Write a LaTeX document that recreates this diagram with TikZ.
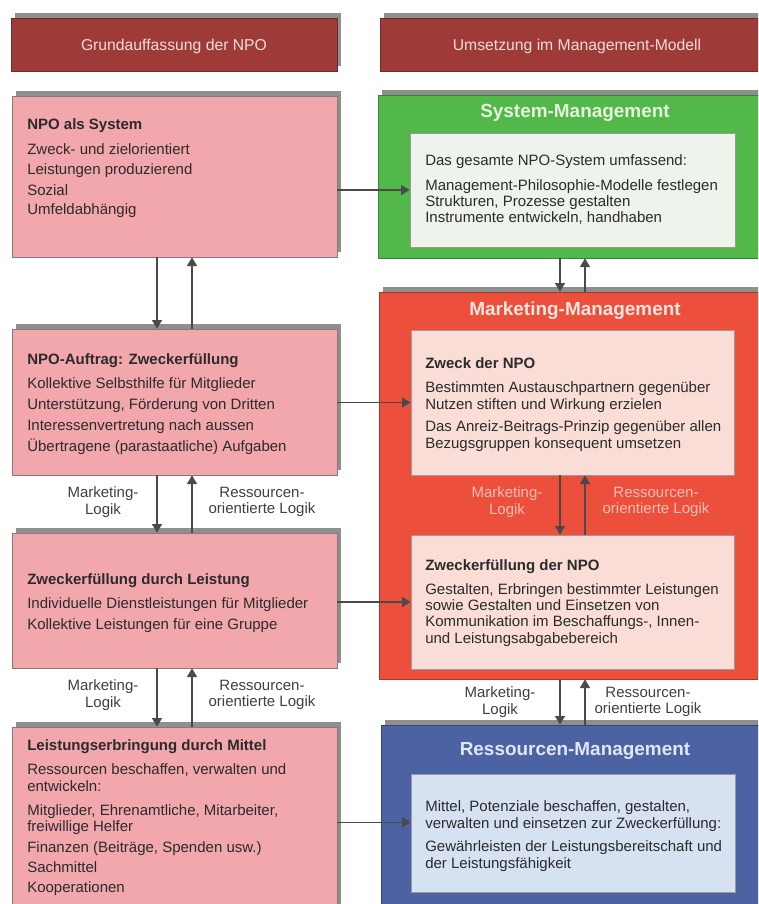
\documentclass[tikz,border=0pt]{standalone}
\usepackage{fontspec}
\setmainfont{Liberation Sans}
\usetikzlibrary{fit,arrows.meta,shadows}
\definecolor{hdrred}{HTML}{9E3B39}
\definecolor{hdrtext}{HTML}{F2DCD6}
\definecolor{pinkc}{HTML}{F2A7AD}
\definecolor{pinkedge}{HTML}{8C7878}
\definecolor{shadowgray}{HTML}{8F8F8F}
\definecolor{greenc}{HTML}{52B84A}
\definecolor{greenin}{HTML}{EEF3EC}
\definecolor{greentitle}{HTML}{E6F2DC}
\definecolor{redc}{HTML}{EC4F3B}
\definecolor{redin}{HTML}{F9DDD6}
\definecolor{redtitle}{HTML}{FDE6DE}
\definecolor{redlab}{HTML}{F6C0B4}
\definecolor{bluec}{HTML}{4D62A3}
\definecolor{bluein}{HTML}{D6E1F2}
\definecolor{bluetitle}{HTML}{DFE6F4}
\definecolor{textc}{HTML}{2B2B2B}
\definecolor{arrc}{HTML}{4A4A4A}
\definecolor{inedge}{HTML}{9A9A9A}
\begin{document}
\begin{tikzpicture}[x=0.75pt,y=-0.75pt,
  shad/.style={general shadow={shadow xshift=3.2pt,shadow yshift=3.75pt,fill=shadowgray}},
  hdrbox/.style={inner sep=0pt,fill=hdrred,draw=hdrred!70!black,line width=0.4pt,shad},
  pinkbox/.style={inner sep=0pt,fill=pinkc,draw=pinkedge,line width=0.5pt,shad},
  greenbox/.style={inner sep=0pt,fill=greenc,draw=greenc!70!black,line width=0.5pt,shad},
  redbox/.style={inner sep=0pt,fill=redc,draw=redc!70!black,line width=0.5pt,shad},
  bluebox/.style={inner sep=0pt,fill=bluec,draw=bluec!70!black,line width=0.5pt,shad},
  inbox/.style={inner sep=0pt,draw=inedge,line width=0.5pt},
  hdrtxt/.style={inner sep=0pt,text=hdrtext,font=\fontsize{11.8}{13}\selectfont},
  mtitle/.style={inner sep=0pt,font=\fontsize{14.2}{16}\selectfont\bfseries},
  txt/.style={anchor=base west,inner sep=0pt,text=textc,font=\fontsize{11.25}{13}\selectfont},
  ttl/.style={txt,font=\fontsize{11.25}{13}\selectfont\bfseries},
  lab/.style={align=center,inner sep=0pt,text=textc!90,font=\fontsize{11.25}{12.4}\selectfont},
  arr/.style={draw=arrc,line width=1.1pt,-{Triangle[length=6.5pt,width=7.5pt]}}
]
\useasboundingbox (0,0) rectangle (758,904);
\clip (0,0) rectangle (758,904);
\fill[white] (0,0) rectangle (758,904);

% column positions for vertical connectors
\coordinate (Ldn) at (157,0);
\coordinate (Lup) at (192,0);
\coordinate (Rdn) at (560,0);
\coordinate (Rup) at (585,0);

% headers
\node[hdrbox,fit={(11,18) (337,71)}] (h1) {};
\node[hdrtxt] (h1t) at (174,46) {Grundauffassung der NPO};
\node[hdrbox,fit={(380,18) (770,71)}] (h2) {};
\node[hdrtxt] (h2t) at (577,46) {Umsetzung im Management-Modell};

% left column
\node[pinkbox,fit={(12,96) (337,257)}] (b1) {};
\node[ttl] (b1a) at (27,129) {NPO als System};
\node[txt] (b1b) at (27,154) {Zweck- und zielorientiert};
\node[txt] (b1c) at (27,174) {Leistungen produzierend};
\node[txt] (b1d) at (27,195) {Sozial};
\node[txt] (b1e) at (27,214) {Umfeldabhängig};

\node[pinkbox,fit={(12,329) (337,475)}] (b2) {};
\node[ttl] (b2a) at (27,364) {NPO-Auftrag: Zweckerfüllung};
\node[txt] (b2b) at (27,388) {Kollektive Selbsthilfe für Mitglieder};
\node[txt] (b2c) at (27,409) {Unterstützung, Förderung von Dritten};
\node[txt] (b2d) at (27,430) {Interessenvertretung nach aussen};
\node[txt] (b2e) at (27,451) {Übertragene (parastaatliche) Aufgaben};

\node[pinkbox,fit={(12,533) (337,668)}] (b3) {};
\node[ttl] (b3a) at (27,584) {Zweckerfüllung durch Leistung};
\node[txt] (b3b) at (27,608) {Individuelle Dienstleistungen für Mitglieder};
\node[txt] (b3c) at (27,629) {Kollektive Leistungen für eine Gruppe};

\node[pinkbox,fit={(12,727) (337,915)}] (b4) {};
\node[ttl] (b4a) at (27,750) {Leistungserbringung durch Mittel};
\node[txt] (b4b) at (27,774) {Ressourcen beschaffen, verwalten und};
\node[txt] (b4c) at (27,791) {entwickeln:};
\node[txt] (b4d) at (27,815) {Mitglieder, Ehrenamtliche, Mitarbeiter,};
\node[txt] (b4e) at (27,831) {freiwillige Helfer};
\node[txt] (b4f) at (27,852) {Finanzen (Beiträge, Spenden usw.)};
\node[txt] (b4g) at (27,872) {Sachmittel};
\node[txt] (b4h) at (27,892) {Kooperationen};

% right column: System-Management
\node[greenbox,fit={(378,95) (775,258)}] (sm) {};
\node[mtitle,text=greentitle] (smt) at (575,113) {System-Management};
\node[inbox,fill=greenin,fit={(410,133) (735,247)}] (smin) {};
\node[txt] (sma) at (425,165) {Das gesamte NPO-System umfassend:};
\node[txt] (smb) at (425,190) {Management-Philosophie-Modelle festlegen};
\node[txt] (smc) at (425,206) {Strukturen, Prozesse gestalten};
\node[txt] (smd) at (425,222) {Instrumente entwickeln, handhaben};

% Marketing-Management
\node[redbox,fit={(379,292) (775,679)}] (mm) {};
\node[mtitle,text=redtitle] (mmt) at (575,311) {Marketing-Management};
\node[inbox,fill=redin,fit={(411,330) (734,475)}] (mm1) {};
\node[ttl] (mm1a) at (425,368) {Zweck der NPO};
\node[txt] (mm1b) at (425,392) {Bestimmten Austauschpartnern gegenüber};
\node[txt] (mm1c) at (425,409) {Nutzen stiften und Wirkung erzielen};
\node[txt] (mm1d) at (425,431) {Das Anreiz-Beitrags-Prinzip gegenüber allen};
\node[txt] (mm1e) at (425,448) {Bezugsgruppen konsequent umsetzen};
\node[inbox,fill=redin,fit={(411,535) (734,669)}] (mm2) {};
\node[ttl] (mm2a) at (425,570) {Zweckerfüllung der NPO};
\node[txt] (mm2b) at (425,594) {Gestalten, Erbringen bestimmter Leistungen};
\node[txt] (mm2c) at (425,610) {sowie Gestalten und Einsetzen von};
\node[txt] (mm2d) at (425,626) {Kommunikation im Beschaffungs-, Innen-};
\node[txt] (mm2e) at (425,643) {und Leistungsabgabebereich};
\node[lab,text=redlab] (mml1) at (507,502) {Marketing-\\Logik};
\node[lab,text=redlab] (mml2) at (656,502) {Ressourcen-\\orientierte Logik};

% Ressourcen-Management
\node[bluebox,fit={(381,725) (775,915)}] (rm) {};
\node[mtitle,text=bluetitle] (rmt) at (575,751) {Ressourcen-Management};
\node[inbox,fill=bluein,fit={(411,774) (735,892)}] (rmin) {};
\node[txt] (rma) at (425,811) {Mittel, Potenziale beschaffen, gestalten,};
\node[txt] (rmb) at (425,828) {verwalten und einsetzen zur Zweckerfüllung:};
\node[txt] (rmc) at (425,851) {Gewährleisten der Leistungsbereitschaft und};
\node[txt] (rmd) at (425,868) {der Leistungsfähigkeit};

% labels between left boxes
\node[lab] (l1) at (103,502) {Marketing-\\Logik};
\node[lab] (l2) at (262,502) {Ressourcen-\\orientierte Logik};
\node[lab] (l3) at (103,695) {Marketing-\\Logik};
\node[lab] (l4) at (262,695) {Ressourcen-\\orientierte Logik};
\node[lab] (l5) at (500,702) {Marketing-\\Logik};
\node[lab] (l6) at (648,702) {Ressourcen-\\orientierte Logik};

% vertical connectors, left
\draw[arr] (b1.south -| Ldn) -- (b2.north -| Ldn);
\draw[arr] (b2.north -| Lup) -- (b1.south -| Lup);
\draw[arr] (b2.south -| Ldn) -- (b3.north -| Ldn);
\draw[arr] (b3.north -| Lup) -- (b2.south -| Lup);
\draw[arr] (b3.south -| Ldn) -- (b4.north -| Ldn);
\draw[arr] (b4.north -| Lup) -- (b3.south -| Lup);

% vertical connectors, right
\draw[arr] (sm.south -| Rdn) -- (mm.north -| Rdn);
\draw[arr] (mm.north -| Rup) -- (sm.south -| Rup);
\draw[arr] (mm1.south -| Rdn) -- (mm2.north -| Rdn);
\draw[arr] (mm2.north -| Rup) -- (mm1.south -| Rup);
\draw[arr] (mm.south -| Rdn) -- (rm.north -| Rdn);
\draw[arr] (rm.north -| Rup) -- (mm.south -| Rup);

% horizontal connectors
\draw[arr] (b1.east |- smin.west) -- (smin.west);
\draw[arr] (b2.east |- mm1.west) -- (mm1.west);
\draw[arr] (b3.east |- mm2.west) -- (mm2.west);
\draw[arr] ([yshift=8pt]b4.east |- rmin.west) -- ([yshift=8pt]rmin.west);
\end{tikzpicture}
\end{document}
